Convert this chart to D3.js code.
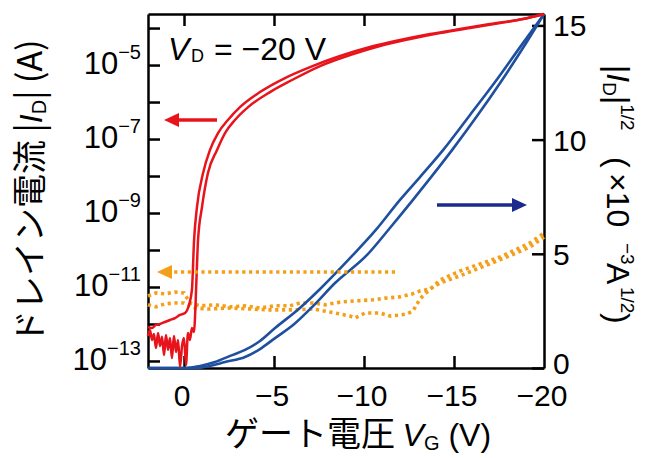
<!DOCTYPE html>
<html><head><meta charset="utf-8">
<script src="https://cdn.jsdelivr.net/npm/d3@7"></script>
<style>body{margin:0;background:#fff}svg{display:block}</style>
</head><body>
<svg id="c" width="657" height="458"></svg>
<script>
// ---------- data ----------
const xTickValues = [0, -5, -10, -15, -20];
const xTickLabels = ["0", "\u22125", "\u221210", "\u221215", "\u221220"];
const logTickExponents = [-13, -12, -11, -10, -9, -8, -7, -6, -5, -4];
const logLabelExponents = [-13, -11, -9, -7, -5];
const rightTickValues = [0, 5, 10, 15];
const rightTickLabels = ["0", "5", "10", "15"];

// |I_D| (A), forward sweep  [V_G, I]
const redForward = [[2.0,8.3e-13],[1.78,7.8e-13],[1.56,9.4e-13],[1.33,1.0e-12],[1.06,1.13e-12],[0.78,1.28e-12],[0.5,1.45e-12],[0.22,1.75e-12],[-0.06,1.98e-12],[-0.28,3.3e-12],[-0.44,8.3e-12],[-0.56,1.86e-10],[-0.72,1.45e-9],[-1.06,1.2e-8],[-1.44,5.0e-8],[-1.89,1.45e-7],[-2.44,3.27e-7],[-3.11,7.3e-7],[-4.22,1.86e-6],[-5.61,4.46e-6],[-7.0,8.8e-6],[-8.67,1.75e-5],[-10.33,3.06e-5],[-12.0,4.74e-5],[-13.67,6.9e-5],[-15.33,9.4e-5],[-17.0,1.28e-4],[-18.83,1.75e-4],[-20,2.39e-4]];
// |I_D| (A), reverse sweep
const redReverse = [[-20,2.39e-4],[-18.83,1.75e-4],[-17.56,1.36e-4],[-15.89,1.0e-4],[-14.22,7.3e-5],[-12.56,5.04e-5],[-10.89,3.27e-5],[-9.22,1.86e-5],[-7.56,9.4e-6],[-6.0,3.94e-6],[-4.78,1.86e-6],[-3.56,7.3e-7],[-2.83,3.27e-7],[-2.28,1.45e-7],[-1.83,5.0e-8],[-1.33,1.2e-8],[-1.0,1.45e-9],[-0.78,1.86e-10],[-0.67,8.3e-12],[-0.61,1.45e-12],[-0.56,6.1e-13],[-0.44,7.8e-13],[-0.33,3.7e-13],[-0.22,5.7e-13],[-0.11,7.8e-14],[0.0,4.2e-13],[0.11,2.54e-13],[0.22,6.9e-14],[0.33,3.7e-13],[0.44,1.75e-13],[0.56,4.7e-13],[0.67,1.2e-13],[0.78,4.2e-13],[0.89,2.0e-13],[1.0,5.0e-13],[1.11,1.45e-13],[1.22,4.5e-13],[1.33,2.54e-13],[1.44,5.7e-13],[1.56,2.24e-13],[1.67,5.4e-13],[1.78,3.7e-13],[1.89,6.9e-13],[2.0,4.7e-13]];
// |I_D|^1/2 (x10^-3 A^1/2)
const blueForward = [[2.0,0],[-0.11,0],[-0.89,0.09],[-1.72,0.26],[-2.56,0.53],[-3.39,0.79],[-4.22,1.18],[-5.06,1.75],[-6.44,2.63],[-7.56,3.46],[-9.39,4.95],[-10.61,6.0],[-12.0,7.36],[-13.11,8.36],[-14.39,9.54],[-15.89,11.08],[-17.28,12.52],[-18.67,14.05],[-20,15.5]];
const blueReverse = [[2.0,0],[-0.61,0],[-1.44,0.09],[-2.28,0.26],[-3.39,0.48],[-4.22,0.83],[-5.06,1.31],[-6.06,1.88],[-7.17,2.71],[-8.39,3.72],[-10.17,4.95],[-11.44,6.13],[-12.72,7.36],[-13.78,8.41],[-14.89,9.54],[-16.28,11.03],[-17.56,12.48],[-18.83,14.01],[-20,15.5]];
// gate leakage |I_G| (A)
const orangeA = [[2.0,5.7e-12],[1.56,6.9e-12],[1.06,6.5e-12],[0.5,7.3e-12],[0,6.9e-12],[-0.33,3.7e-12],[-0.89,3.1e-12],[-1.72,3.3e-12],[-2.56,2.9e-12],[-3.39,3.1e-12],[-4.22,2.7e-12],[-5.06,3.1e-12],[-5.89,3.1e-12],[-6.44,3.7e-12],[-7.17,3.7e-12],[-7.83,3.3e-12],[-8.67,3.9e-12],[-9.5,4.2e-12],[-10.5,4.5e-12],[-11.17,5.0e-12],[-12.0,5.4e-12],[-12.67,6.5e-12],[-13.11,7.8e-12],[-13.67,8.8e-12],[-13.94,1.13e-11],[-14.22,1.55e-11],[-15.33,2.7e-11],[-16.44,4.2e-11],[-17.56,6.5e-11],[-18.28,9.4e-11],[-19.22,1.55e-10],[-20,2.88e-10]];
const orangeB = [[2.0,3.3e-12],[1.56,2.9e-12],[1.06,3.5e-12],[0.5,3.7e-12],[0,3.7e-12],[-0.61,2.7e-12],[-1.44,2.54e-12],[-2.56,2.7e-12],[-3.67,2.54e-12],[-4.78,2.4e-12],[-5.89,2.4e-12],[-7.17,2.54e-12],[-8.11,2.1e-12],[-8.67,1.86e-12],[-9.22,1.64e-12],[-9.5,1.45e-12],[-10.06,1.98e-12],[-10.89,1.98e-12],[-11.44,1.64e-12],[-12.0,1.75e-12],[-12.39,1.86e-12],[-12.72,2.24e-12],[-13.11,4.8e-12],[-13.67,8.8e-12],[-14.22,1.28e-11],[-15.33,2.0e-11],[-16.44,3.3e-11],[-17.94,6.5e-11],[-19.22,1.2e-10],[-20,2.24e-10]];

// ---------- layout ----------
const L = 148, R = 544, T = 14, B = 368;
const RED = "#e8141c", BLUE = "#1f4f9f", NAVY = "#1b2a8c", ORANGE = "#f59e17";
const LAT = "'Liberation Sans', Arial, sans-serif";
const CJK = "'Noto Sans CJK JP', 'Liberation Sans', sans-serif";

const svg = d3.select("#c");
const x = d3.scaleLinear().domain([2, -20]).range([L, R]);
const yL = d3.scaleLog().domain([Math.pow(10, -13.19), Math.pow(10, -3.62)]).range([B, T]);
const yR = d3.scaleLinear().domain([0, 15.5]).range([B, T]);

// axes (ticks inward)
const ax = (g) => g.call(s => s.select(".domain").attr("stroke", "#000").attr("stroke-width", 2.5))
  .call(s => s.selectAll(".tick line").attr("stroke", "#000").attr("stroke-width", 2.5));
svg.append("g").attr("transform", `translate(0,${B})`)
  .call(d3.axisBottom(x).tickValues(xTickValues.slice(0, 4)).tickSize(-12).tickSizeOuter(0).tickFormat(""))
  .call(ax);
svg.append("g").attr("transform", `translate(0,${T})`)
  .call(d3.axisTop(x).tickValues(xTickValues.slice(0, 4)).tickSize(-12).tickSizeOuter(0).tickFormat(""))
  .call(ax);
svg.append("g").attr("transform", `translate(${L},0)`)
  .call(d3.axisLeft(yL).tickValues(logTickExponents.map(e => Math.pow(10, e))).tickSize(-12).tickSizeOuter(0).tickFormat(""))
  .call(ax);
svg.append("g").attr("transform", `translate(${R},0)`)
  .call(d3.axisRight(yR).tickValues(rightTickValues).tickSize(-12).tickSizeOuter(0).tickFormat(""))
  .call(ax);

// tick labels
svg.append("g").selectAll("text").data(xTickValues).join("text")
  .attr("x", d => x(d) - 2).attr("y", 406).attr("text-anchor", "middle")
  .attr("font-family", LAT).attr("font-size", 30).text((d, i) => xTickLabels[i]);
svg.append("g").selectAll("text").data(rightTickValues).join("text")
  .attr("x", 553).attr("y", d => d === 0 ? yR(d) + 6 : yR(d) + 11).attr("font-family", LAT).attr("font-size", 30)
  .text((d, i) => rightTickLabels[i]);
const lt = svg.append("g").selectAll("text").data(logLabelExponents).join("text")
  .attr("x", 141).attr("y", d => yL(Math.pow(10, d)) + 9).attr("text-anchor", "end")
  .attr("font-family", LAT).attr("font-size", 31);
lt.append("tspan").text("10");
lt.append("tspan").attr("font-size", 20).attr("dy", -15).text(d => "\u2212" + Math.abs(d));

// ---------- data lines ----------
const lineLin = d3.line().x(d => x(d[0])).y(d => yL(d[1]));
const lineL = d3.line().x(d => x(d[0])).y(d => yL(d[1])).curve(d3.curveMonotoneX);
const lineR = d3.line().x(d => x(d[0])).y(d => yR(d[1])).curve(d3.curveMonotoneX);
const plot = svg.append("g");
[orangeA, orangeB].forEach(s => plot.append("path").datum(s).attr("d", lineLin)
  .attr("fill", "none").attr("stroke", ORANGE).attr("stroke-width", 3.6).attr("stroke-dasharray", "3.2,3.6"));
[blueForward, blueReverse].forEach(s => plot.append("path").datum(s).attr("d", lineR)
  .attr("fill", "none").attr("stroke", BLUE).attr("stroke-width", 2.6).attr("stroke-linejoin", "round"));
[redForward, redReverse].forEach(s => plot.append("path").datum(s).attr("d", lineL)
  .attr("fill", "none").attr("stroke", RED).attr("stroke-width", 2.5).attr("stroke-linejoin", "round"));

// ---------- arrows ----------
function arrow(x0, x1, yy, color, dashed) {
  const dir = Math.sign(x1 - x0);
  svg.append("line").attr("x1", x0).attr("x2", x1 - dir * 12).attr("y1", yy).attr("y2", yy)
    .attr("stroke", color).attr("stroke-width", dashed ? 3.6 : 3.5)
    .attr("stroke-dasharray", dashed ? "3.2,3.6" : null);
  svg.append("path").attr("fill", color)
    .attr("d", `M${x1},${yy} L${x1 - dir * 15},${yy - 7} L${x1 - dir * 15},${yy + 7} Z`);
}
arrow(217, 164, 120, RED, false);
arrow(395, 157, 272, ORANGE, true);
arrow(437, 527, 205, NAVY, false);

// ---------- annotation ----------
const vd = svg.append("text").attr("font-family", LAT).attr("font-size", 32).attr("y", 60);
vd.append("tspan").attr("x", 168).attr("font-style", "italic").text("V");
vd.append("tspan").attr("x", 191).attr("dy", 2).attr("font-size", 18).text("D");
vd.append("tspan").attr("x", 214).attr("dy", -2).text("= \u221220 V");

// ---------- axis titles ----------
const yt = svg.append("text").attr("transform", "translate(42,344) rotate(-90)")
  .attr("font-size", 34).attr("font-family", CJK);
yt.append("tspan").text("ドレイン電流 |");
yt.append("tspan").attr("font-family", LAT).attr("font-size", 32).attr("font-style", "italic").text("I");
yt.append("tspan").attr("font-family", LAT).attr("font-size", 20).attr("dy", 4).text("D");
yt.append("tspan").attr("dy", -4).text("| (A)");

const xt = svg.append("text").attr("x", 358).attr("y", 446).attr("text-anchor", "middle")
  .attr("font-size", 34).attr("font-family", CJK);
xt.append("tspan").text("ゲート電圧 ");
xt.append("tspan").attr("font-family", LAT).attr("font-size", 32).attr("font-style", "italic").text("V");
xt.append("tspan").attr("font-family", LAT).attr("font-size", 20).attr("dy", 4).text("G");
xt.append("tspan").attr("font-family", LAT).attr("font-size", 32).attr("dy", -4).text(" (V)");

const rt = svg.append("text").attr("transform", "translate(607,65) rotate(90)")
  .attr("font-size", 32).attr("font-family", LAT);
rt.append("tspan").attr("x", 0).text("|");
rt.append("tspan").attr("font-style", "italic").text("I");
rt.append("tspan").attr("font-size", 19).attr("dy", 4).text("D");
rt.append("tspan").attr("dy", -4).text("|");
rt.append("tspan").attr("font-size", 19).attr("dy", -14).text("1/2");
rt.append("tspan").attr("x", 92).attr("dy", 14).text("(");
rt.append("tspan").attr("x", 108).text("\u00d710");
rt.append("tspan").attr("x", 178).attr("font-size", 19).attr("dy", -14).text("\u22123");
rt.append("tspan").attr("x", 198).attr("dy", 14).text("A");
rt.append("tspan").attr("x", 222).attr("font-size", 19).attr("dy", -14).text("1/2");
rt.append("tspan").attr("x", 248).attr("dy", 14).text(")");
</script>
</body></html>
